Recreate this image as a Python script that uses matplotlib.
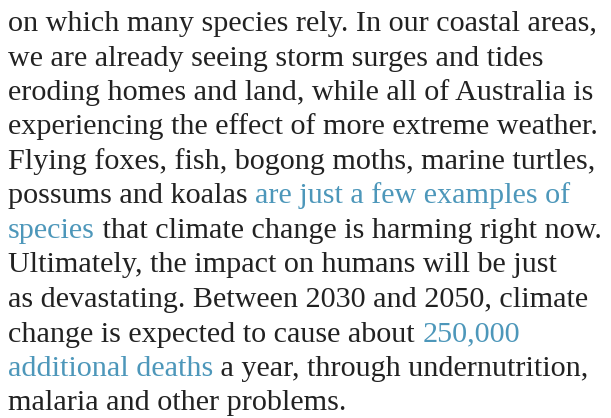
import matplotlib
matplotlib.use("Agg")
import matplotlib.pyplot as plt

# Paragraph text, one entry per line: list of (text, is_link) segments
lines = [
    [("on which many species rely. In our coastal areas,", False)],
    [("we are already seeing storm surges and tides", False)],
    [("eroding homes and land, while all of Australia is", False)],
    [("experiencing the effect of more extreme weather.", False)],
    [("Flying foxes, fish, bogong moths, marine turtles,", False)],
    [("possums and koalas ", False), ("are just a few examples of", True)],
    [("species", True), (" that climate change is harming right now.", False)],
    [("Ultimately, the impact on humans will be just", False)],
    [("as devastating. Between 2030 and 2050, climate", False)],
    [("change is expected to cause about ", False), ("250,000", True)],
    [("additional deaths", True), (" a year, through undernutrition,", False)],
    [("malaria and other problems.", False)],
]

text_color = "#222222"
link_color = "#4d97ba"
font = "Liberation Serif"

W, H = 611, 418
fig = plt.figure(figsize=(W / 100, H / 100), dpi=100)
fig.patch.set_facecolor("white")
renderer = fig.canvas.get_renderer()


def text_width(s, size):
    # width in pixels, measured with a marker so trailing spaces count
    t = fig.text(0, 0, s + "|", fontsize=size, family=font)
    m = fig.text(0, 0, "|", fontsize=size, family=font)
    w = t.get_window_extent(renderer).width - m.get_window_extent(renderer).width
    t.remove()
    m.remove()
    return w


# fit the font size so the widest line spans the text block
full = ["".join(s for s, _ in ln) for ln in lines]
ref_size = 20
widest = max(text_width(s, ref_size) for s in full)
size = ref_size * 594 / widest

x0 = 8
base0 = 31
pitch = 34.5
for i, ln in enumerate(lines):
    y = H - (base0 + i * pitch)
    prefix = ""
    for seg, link in ln:
        x = x0 + (text_width(prefix, size) if prefix else 0)
        fig.text(x / W, y / H, seg, fontsize=size, family=font,
                 color=link_color if link else text_color,
                 ha="left", va="baseline")
        prefix += seg

fig.savefig("out.png", dpi=100, facecolor="white")
